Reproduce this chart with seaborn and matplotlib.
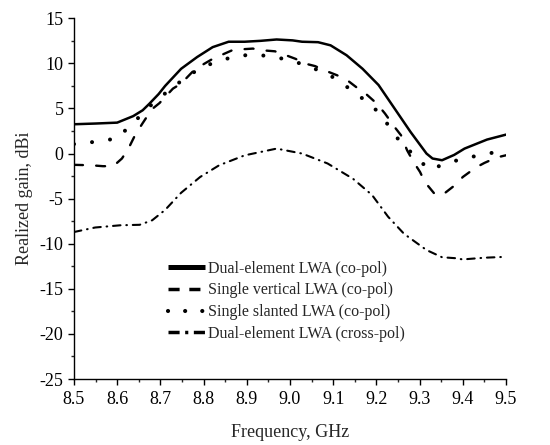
import matplotlib
matplotlib.use("Agg")
import matplotlib.pyplot as plt
import seaborn as sns
import pandas as pd
from matplotlib.ticker import MultipleLocator

sns.set_style("ticks")
plt.rcParams["font.family"] = ["Liberation Serif", "DejaVu Serif"]
plt.rcParams["axes.unicode_minus"] = False
plt.rcParams["lines.dash_capstyle"] = "round"
plt.rcParams["lines.solid_capstyle"] = "round"

labels = ["Dual-element LWA (co-pol)", "Single vertical LWA (co-pol)",
          "Single slanted LWA (co-pol)", "Dual-element LWA (cross-pol)"]

freq_dual = [8.5, 8.55, 8.6, 8.637, 8.659, 8.674, 8.696, 8.711, 8.748, 8.785,
             8.821, 8.858, 8.895, 8.932, 8.969, 9.006, 9.028, 9.065, 9.094,
             9.131, 9.168, 9.205, 9.242, 9.279, 9.316, 9.33, 9.352, 9.38,
             9.404, 9.456, 9.5]
gain_dual = [3.25, 3.33, 3.43, 4.15, 4.8, 5.5, 6.6, 7.5, 9.4, 10.7,
             11.8, 12.4, 12.4, 12.5, 12.65, 12.55, 12.4, 12.35, 12.0,
             10.9, 9.4, 7.6, 5.0, 2.4, 0.0, -0.55, -0.74, -0.15,
             0.55, 1.55, 2.1]

freq_vert = [8.5, 8.54, 8.567, 8.591, 8.611, 8.626, 8.641, 8.658, 8.68, 8.698,
             8.729, 8.748, 8.774, 8.796, 8.821, 8.84, 8.866, 8.888, 8.914,
             8.936, 8.965, 8.987, 9.013, 9.035, 9.058, 9.08, 9.109, 9.128,
             9.153, 9.175, 9.201, 9.22, 9.242, 9.257, 9.271, 9.286, 9.301,
             9.312, 9.334, 9.352, 9.382, 9.4, 9.43, 9.45, 9.478, 9.5]
gain_vert = [-1.25, -1.3, -1.4, -1.4, -0.55, 0.55, 2.0, 3.3, 4.9, 5.6,
             7.2, 7.76, 9.05, 9.8, 10.5, 10.9, 11.45, 11.56, 11.64,
             11.45, 11.34, 10.97, 10.5, 9.98, 9.7, 9.23, 8.68, 8.3,
             7.38, 6.65, 5.54, 4.43, 2.95, 2.03, 0.37, -0.93, -2.04,
             -3.15, -4.43, -4.62, -3.5, -2.6, -1.55, -1.04, -0.44, -0.19]

freq_slant = [8.5, 8.519, 8.56, 8.599, 8.637, 8.678, 8.715, 8.755, 8.796, 8.833,
              8.873, 8.914, 8.954, 8.995, 9.032, 9.072, 9.109, 9.15, 9.19,
              9.223, 9.255, 9.322, 9.36, 9.40, 9.44, 9.478, 9.5]
gain_slant = [1.05, 1.1, 1.4, 1.66, 3.4, 5.35, 6.83, 8.3, 9.6, 10.2,
              10.8, 10.97, 10.8, 10.4, 9.87, 9.12, 8.24, 6.72, 5.35,
              3.44, 1.29, -1.77, -1.15, -0.55, -0.19, 0.18, 0.3]

freq_cross = [8.5, 8.549, 8.608, 8.652, 8.681, 8.711, 8.748, 8.792, 8.836, 8.895,
              8.969, 9.028, 9.087, 9.146, 9.19, 9.227, 9.264, 9.316, 9.352,
              9.382, 9.4, 9.45, 9.5]
gain_cross = [-8.7, -8.2, -7.95, -7.9, -7.4, -6.25, -4.35, -2.6, -1.3, -0.2,
              0.55, 0.0, -1.1, -2.8, -4.6, -7.0, -8.9, -10.7, -11.5,
              -11.6, -11.74, -11.55, -11.45]

frames = []
for lab, f, g in zip(labels, [freq_dual, freq_vert, freq_slant, freq_cross],
                     [gain_dual, gain_vert, gain_slant, gain_cross]):
    frames.append(pd.DataFrame({"freq": f, "gain": g, "series": lab}))
df = pd.concat(frames, ignore_index=True)

fig = plt.figure(figsize=(5.5, 4.45), dpi=100)
ax = fig.add_axes([0.1345, 0.1483, 0.7855, 0.8106])

dashes = {labels[0]: "",
          labels[1]: (3.8, 5.6),
          labels[2]: (0.01, 4.5),
          labels[3]: (3.6, 2.8, 0.3, 2.8)}
palette = {l: "black" for l in labels}

sns.lineplot(data=df, x="freq", y="gain", hue="series", style="series",
             palette=palette, dashes=dashes, hue_order=labels, style_order=labels,
             ax=ax, sort=True, legend=True)

lws = [1.8, 1.7, 2.9, 1.5]
for line, lw in zip(ax.get_lines()[:4], lws):
    line.set_linewidth(lw)

ax.set_xlim(8.5, 9.5)
ax.set_ylim(-25, 15)
ax.set_xticks([8.5 + 0.1 * i for i in range(11)])
ax.set_xticklabels([f"{8.5 + 0.1 * i:.1f}" for i in range(11)])
ax.xaxis.set_minor_locator(MultipleLocator(0.05))
ax.yaxis.set_major_locator(MultipleLocator(5))
ax.yaxis.set_minor_locator(MultipleLocator(2.5))
ax.tick_params(axis="both", which="major", direction="out", length=4.5, width=1,
               labelsize=13, colors="black")
ax.tick_params(axis="x", which="major", pad=4)
ax.tick_params(axis="y", which="major", pad=3)
ax.tick_params(axis="both", which="minor", direction="out", length=2.5, width=1)
for s in ["top", "right"]:
    ax.spines[s].set_visible(False)
for s in ["left", "bottom"]:
    ax.spines[s].set_linewidth(1)
    ax.spines[s].set_color("black")

ax.set_xlabel("Frequency, GHz", fontsize=13)
ax.set_ylabel("Realized gain, dBi", fontsize=13)
ax.xaxis.set_label_coords(0.5, -0.125)
ax.yaxis.set_label_coords(-0.096, 0.5)

leg = ax.legend(loc="upper left", bbox_to_anchor=(0.2176, 0.328), frameon=False,
                fontsize=11.5, handlelength=2.3, handletextpad=0.19,
                labelspacing=0.36, borderaxespad=0, borderpad=0)
leg_lws = [3.6, 2.5, 3.0, 2.5]
leg_dashes = [None, (3.2, 2.8), (0.01, 4.1), (3.2, 1.6, 0.9, 1.6)]
for h, lw, d in zip(leg.get_lines(), leg_lws, leg_dashes):
    h.set_linewidth(lw)
    if d is None:
        h.set_linestyle("-")
        h.set_solid_capstyle("butt")
    else:
        h.set_dashes(d)
        if d[0] > 0.1:
            h.set_dash_capstyle("butt")

fig.savefig("out.png", dpi=100)
